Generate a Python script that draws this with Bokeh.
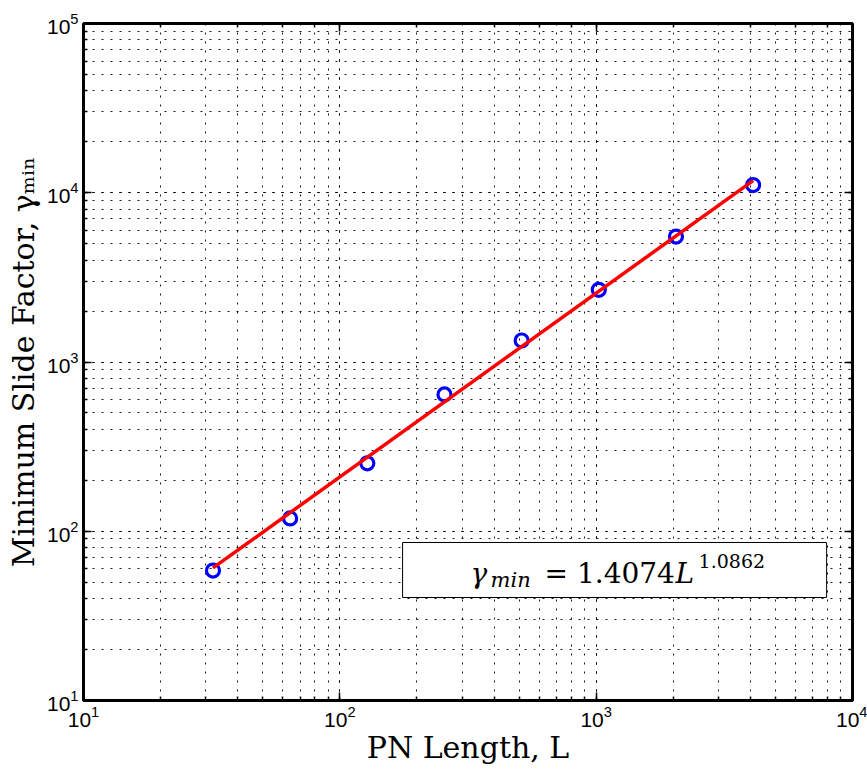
from bokeh.plotting import figure
from bokeh.models import LogAxis, LogTicker, BoxAnnotation, Label, CustomJSTickFormatter
from bokeh.embed import file_html
from bokeh.resources import INLINE

# ---- data ----
pn_length = [32, 64, 128, 256, 512, 1024, 2048, 4096]
gamma_min = [58.6, 119, 252, 643, 1340, 2670, 5510, 11100]
fit_x = [32, 4096]
fit_y = [60.7, 11800]
eq_parts = ["γ", "min", "= 1.4074", "L", "1.0862"]

SERIF = "DejaVu Serif"
SANS = "Liberation Sans"

p = figure(width=867, height=769, x_axis_type="log", y_axis_type="log",
           x_range=(10, 1e4), y_range=(10, 1e5),
           output_backend="svg", toolbar_location=None,
           min_border_left=83, min_border_right=15,
           min_border_top=23, min_border_bottom=69)
p.background_fill_color = "white"
p.border_fill_color = "white"
p.outline_line_color = "black"
p.outline_line_width = 3
p.outline_line_alpha = 1.0

# grids: dotted black at major and minor ticks
for g in (p.xgrid, p.ygrid):
    g.grid_line_color = "black"
    g.grid_line_dash = "2 7"
    g.grid_line_alpha = 0.9
    g.grid_line_width = 1
    g.minor_grid_line_color = "black"
    g.minor_grid_line_dash = "2 7"
    g.minor_grid_line_alpha = 0.9
    g.minor_grid_line_width = 1

def style_axis(ax):
    ax.axis_line_color = None
    ax.major_tick_in = 8
    ax.major_tick_out = 0
    ax.minor_tick_in = 4
    ax.minor_tick_out = 0
    ax.major_tick_line_color = "black"
    ax.minor_tick_line_color = "black"
    ax.major_tick_line_width = 1.5
    ax.minor_tick_line_width = 1.5
    ax.major_label_text_font = SANS
    ax.major_label_text_font_size = "21px"
    ax.major_label_text_color = "black"

for ax in p.xaxis + p.yaxis:
    style_axis(ax)

p.xaxis.axis_label = "PN Length, L"
p.yaxis.axis_label = "Minimum Slide Factor, γₘᵢₙ"
for ax in p.xaxis + p.yaxis:
    ax.axis_label_text_font = SERIF
    ax.axis_label_text_font_size = "30px"
    ax.axis_label_text_font_style = "normal"
    ax.axis_label_text_color = "black"
p.xaxis.major_label_standoff = 5
p.xaxis.axis_label_standoff = 0
p.yaxis.major_label_standoff = 5
p.yaxis.axis_label_standoff = 3

# mirror ticks on top and right (no labels)
top = LogAxis(ticker=LogTicker(), formatter=CustomJSTickFormatter(code="return ''"))
right = LogAxis(ticker=LogTicker(), formatter=CustomJSTickFormatter(code="return ''"))
for ax in (top, right):
    style_axis(ax)
    ax.major_label_standoff = 0
p.add_layout(top, "above")
p.add_layout(right, "right")

# data
p.scatter(pn_length, gamma_min, marker="circle", size=13, fill_color=None,
          line_color="#0000ff", line_width=3.2)
p.line(fit_x, fit_y, line_color="#ff0000", line_width=3.5)

# equation box
box = BoxAnnotation(left=175.7, right=7925, bottom=40.6, top=85.8,
                    fill_color="white", fill_alpha=1.0,
                    line_color="black", line_alpha=1.0, line_width=1)
p.add_layout(box)

bx, by = 175.7, 56.3
specs = [
    (eq_parts[0], 68, 0, "28px", "italic"),
    (eq_parts[1], 88, -7, "21px", "italic"),
    (eq_parts[2], 142, 0, "28px", "normal"),
    (eq_parts[3], 273, 0, "28px", "italic"),
    (eq_parts[4], 296, 12, "19px", "normal"),
]
for txt, dx, dy, fs, st in specs:
    p.add_layout(Label(x=bx, y=by, x_offset=dx, y_offset=dy, text=txt,
                       text_font=SERIF, text_font_size=fs, text_font_style=st,
                       text_color="black", text_align="left",
                       text_baseline="alphabetic"))

open("out.html", "w").write(file_html(p, INLINE))
